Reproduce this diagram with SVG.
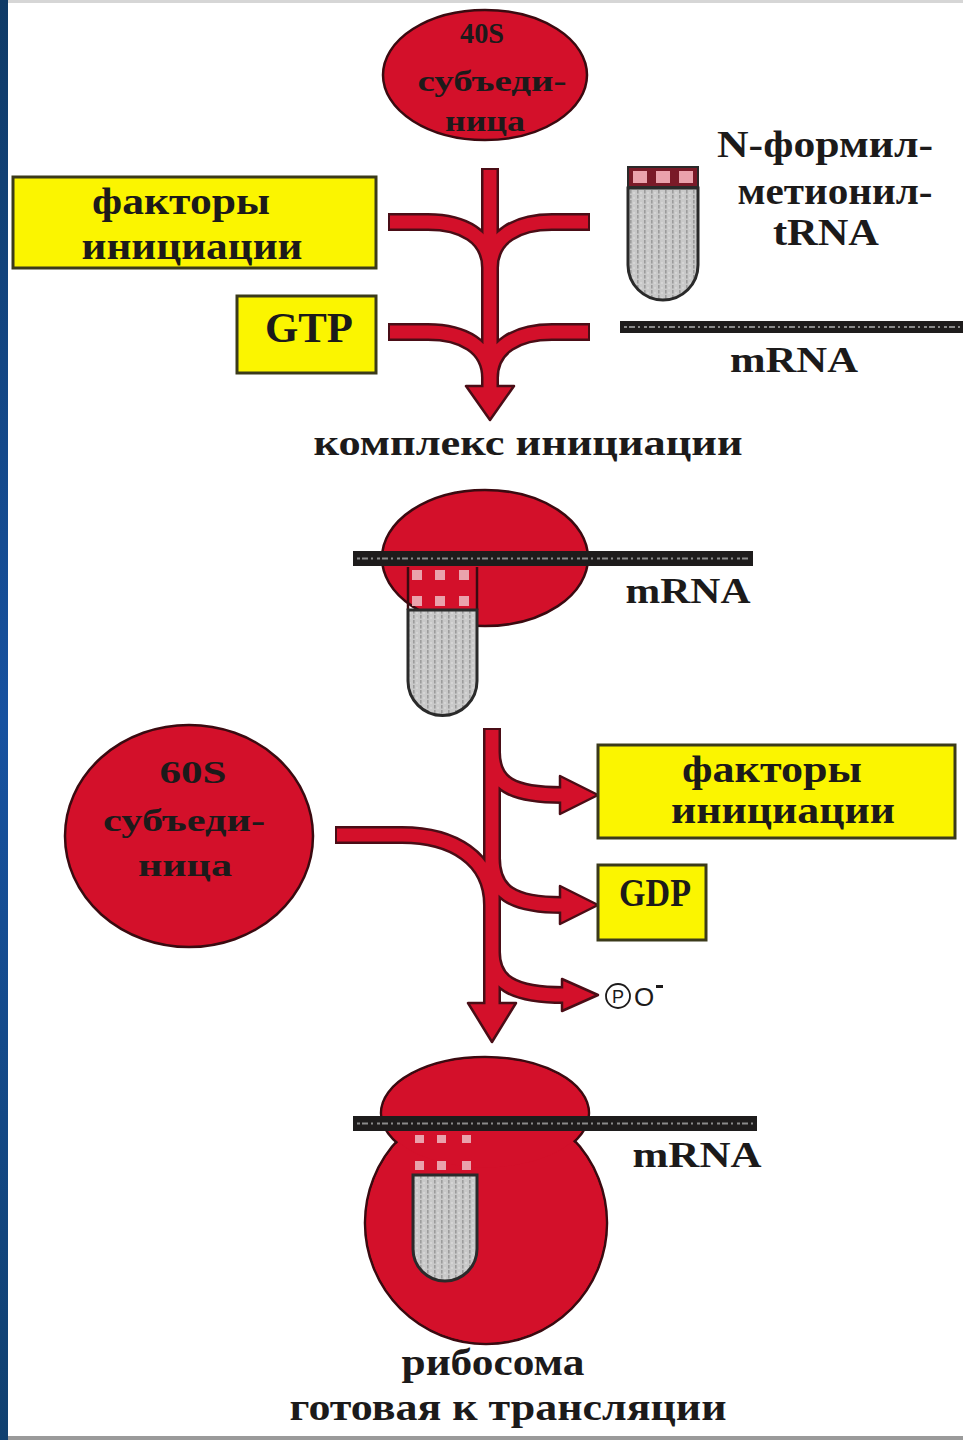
<svg xmlns="http://www.w3.org/2000/svg" width="963" height="1440" viewBox="0 0 963 1440">
  <defs>
    <style>
      .lbl { font-family: "Liberation Serif", "Times New Roman", serif; font-weight: bold; fill: #1c1a1a; text-anchor: middle; }
      .sub { fill: #d3102a; stroke: #3a0a10; stroke-width: 2.5; }
      .sub-fill { fill: #d3102a; }
      .box { fill: #fbf500; stroke: #3b3a1a; stroke-width: 3; }
      .arr-edge { fill: none; stroke: #4a0d16; stroke-width: 18; }
      .arr-core { fill: none; stroke: #d3102a; stroke-width: 13; }
      .head { fill: #d3102a; stroke: #4a0d16; stroke-width: 2.5; stroke-linejoin: round; }
      .body { fill: url(#grain); stroke: #2a2a2a; stroke-width: 3; }
      .codon { fill: #eaa2ac; }
      .mrna-bg { fill: #1e1c1c; }
      .mrna-tx { fill: none; stroke: #8a8a8a; stroke-width: 2; stroke-dasharray: 3 2 6 3 2 4; }
    </style>
    <pattern id="grain" width="7" height="5" patternUnits="userSpaceOnUse">
      <rect width="7" height="5" fill="#c9c9c9"/>
      <rect x="0" y="0" width="1.6" height="3.5" fill="#9c9c9c"/>
      <rect x="3.5" y="2" width="1" height="2" fill="#e2e2e2"/>
    </pattern>
    <linearGradient id="edge" x1="0" y1="0" x2="0" y2="1">
      <stop offset="0" stop-color="#0f3a66"/>
      <stop offset="0.5" stop-color="#1752a0"/>
      <stop offset="1" stop-color="#10406f"/>
    </linearGradient>
  </defs>

  <!-- page -->
  <rect width="963" height="1440" fill="#ffffff"/>
  <rect x="0" y="0" width="8" height="1440" fill="url(#edge)"/>
  <rect x="8" y="0" width="955" height="3" fill="#d6d6d6"/>
  <rect x="8" y="1436" width="955" height="4" fill="#9a9a9a"/>

  <!-- connectors -->
  <g id="connectors">
    <!-- assembly of the initiation complex -->
    <g id="assembly-arrow">
      <path class="arr-edge" d="M490,168 V392 M388,222 H428 C462,222 490,236 490,268 M590,222 H552 C518,222 490,236 490,268 M388,332 H428 C462,332 490,346 490,378 M590,332 H552 C518,332 490,346 490,378"/>
      <polygon class="head" points="466,386 514,386 490,420"/>
      <path class="arr-core" d="M490,170 V392 M390,222 H428 C462,222 490,236 490,268 M588,222 H552 C518,222 490,236 490,268 M390,332 H428 C462,332 490,346 490,378 M588,332 H552 C518,332 490,346 490,378"/>
    </g>
    <!-- joining of the large subunit -->
    <g id="joining-arrow">
      <path class="arr-edge" d="M492,728 V1006 M335,835 H402 C452,835 492,858 492,905 M492,752 C492,784 512,795 562,795 M492,858 C492,892 512,905 562,905 M492,952 C492,982 512,995 564,995"/>
      <polygon class="head" points="560,776 598,795 560,814"/>
      <polygon class="head" points="560,886 598,905 560,924"/>
      <polygon class="head" points="562,979 598,995 562,1011"/>
      <polygon class="head" points="468,1003 516,1003 492,1042"/>
      <path class="arr-core" d="M492,730 V1006 M337,835 H402 C452,835 492,858 492,905 M492,752 C492,784 512,795 562,795 M492,858 C492,892 512,905 562,905 M492,952 C492,982 512,995 564,995"/>
    </g>
  </g>

  <!-- small subunit -->
  <g id="subunit-40s">
    <ellipse class="sub" cx="485" cy="75" rx="102" ry="65"/>
    <text class="lbl" x="482" y="43" font-size="30" textLength="44" lengthAdjust="spacingAndGlyphs">40S</text>
    <text class="lbl" x="492" y="91" font-size="30" textLength="149" lengthAdjust="spacingAndGlyphs">субъеди-</text>
    <text class="lbl" x="485" y="131" font-size="30" textLength="80" lengthAdjust="spacingAndGlyphs">ница</text>
  </g>

  <!-- initiation factors in -->
  <g id="factors-in">
    <rect class="box" x="13" y="177" width="363" height="91"/>
    <text class="lbl" x="181" y="214" font-size="38" textLength="178" lengthAdjust="spacingAndGlyphs">факторы</text>
    <text class="lbl" x="192" y="259" font-size="38" textLength="221" lengthAdjust="spacingAndGlyphs">инициации</text>
  </g>

  <g id="gtp">
    <rect class="box" x="237" y="296" width="139" height="77"/>
    <text class="lbl" x="309" y="342" font-size="42" textLength="88" lengthAdjust="spacingAndGlyphs">GTP</text>
  </g>

  <!-- initiator tRNA -->
  <g id="trna">
    <rect x="628" y="167" width="70" height="20" fill="#7a1a28" stroke="#2a2a2a" stroke-width="2"/>
    <rect class="codon" x="633" y="171" width="14" height="12"/>
    <rect class="codon" x="656" y="171" width="14" height="12"/>
    <rect class="codon" x="679" y="171" width="14" height="12"/>
    <path class="body" d="M628,188 V265 A35,35 0 0 0 698,265 V188 Z"/>
    <text class="lbl" x="825" y="157" font-size="38" textLength="216" lengthAdjust="spacingAndGlyphs">N-формил-</text>
    <text class="lbl" x="835" y="204" font-size="38" textLength="195" lengthAdjust="spacingAndGlyphs">метионил-</text>
    <text class="lbl" x="826" y="245" font-size="38" textLength="106" lengthAdjust="spacingAndGlyphs">tRNA</text>
  </g>

  <g id="mrna">
    <rect class="mrna-bg" x="620" y="321" width="343" height="12"/>
    <line class="mrna-tx" x1="624" y1="327" x2="963" y2="327"/>
    <text class="lbl" x="794" y="372" font-size="36" textLength="128" lengthAdjust="spacingAndGlyphs">mRNA</text>
  </g>

  <text id="complex-label" class="lbl" x="528" y="455" font-size="36" textLength="429" lengthAdjust="spacingAndGlyphs">комплекс инициации</text>

  <!-- initiation complex -->
  <g id="initiation-complex">
    <ellipse class="sub" cx="485" cy="558" rx="103" ry="68"/>
    <rect class="codon" x="412" y="570" width="10" height="10"/>
    <rect class="codon" x="435" y="570" width="10" height="10"/>
    <rect class="codon" x="459" y="570" width="10" height="10"/>
    <rect class="codon" x="412" y="596" width="10" height="10"/>
    <rect class="codon" x="435" y="596" width="10" height="10"/>
    <rect class="codon" x="459" y="596" width="10" height="10"/>
    <line x1="408" y1="567" x2="408" y2="610" stroke="#3a0a10" stroke-width="2.5"/>
    <line x1="477" y1="567" x2="477" y2="610" stroke="#3a0a10" stroke-width="2.5"/>
    <path class="body" d="M408,610 V681 A34.5,34.5 0 0 0 477,681 V610 Z"/>
    <rect class="mrna-bg" x="353" y="551" width="400" height="15"/>
    <line class="mrna-tx" x1="357" y1="558.5" x2="750" y2="558.5"/>
    <text class="lbl" x="688" y="603" font-size="36" textLength="125" lengthAdjust="spacingAndGlyphs">mRNA</text>
  </g>

  <!-- large subunit -->
  <g id="subunit-60s">
    <ellipse class="sub" cx="189" cy="836" rx="124" ry="111"/>
    <text class="lbl" x="193" y="783" font-size="32" textLength="67" lengthAdjust="spacingAndGlyphs">60S</text>
    <text class="lbl" x="184" y="831" font-size="32" textLength="162" lengthAdjust="spacingAndGlyphs">субъеди-</text>
    <text class="lbl" x="185" y="876" font-size="32" textLength="94" lengthAdjust="spacingAndGlyphs">ница</text>
  </g>

  <!-- released factors -->
  <g id="factors-out">
    <rect class="box" x="598" y="745" width="357" height="93"/>
    <text class="lbl" x="772" y="782" font-size="38" textLength="180" lengthAdjust="spacingAndGlyphs">факторы</text>
    <text class="lbl" x="783" y="823" font-size="38" textLength="224" lengthAdjust="spacingAndGlyphs">инициации</text>
  </g>

  <g id="gdp">
    <rect class="box" x="598" y="865" width="108" height="75"/>
    <text class="lbl" x="655" y="906" font-size="40" textLength="72" lengthAdjust="spacingAndGlyphs">GDP</text>
  </g>

  <g id="phosphate">
    <circle cx="618" cy="996" r="12" fill="#ffffff" stroke="#1c1a1a" stroke-width="1.8"/>
    <text x="618" y="1003" font-family="Liberation Sans, Arial, sans-serif" font-size="18" fill="#1c1a1a" text-anchor="middle">P</text>
    <text x="634" y="1006" font-family="Liberation Sans, Arial, sans-serif" font-size="26" fill="#1c1a1a">O</text>
    <rect x="656" y="985" width="7" height="3" fill="#1c1a1a"/>
  </g>

  <!-- assembled ribosome: outlines first, then fills so only the outer contour shows -->
  <g id="ribosome">
    <circle class="sub" cx="486" cy="1223" r="121"/>
    <ellipse class="sub" cx="485" cy="1113" rx="104" ry="56"/>
    <circle class="sub-fill" cx="486" cy="1223" r="119.5"/>
    <ellipse class="sub-fill" cx="485" cy="1113" rx="102.5" ry="54.5"/>
    <rect class="codon" x="415" y="1135" width="9" height="8"/>
    <rect class="codon" x="437" y="1135" width="9" height="8"/>
    <rect class="codon" x="462" y="1135" width="9" height="8"/>
    <rect class="codon" x="415" y="1161" width="9" height="9"/>
    <rect class="codon" x="437" y="1161" width="9" height="9"/>
    <rect class="codon" x="462" y="1161" width="9" height="9"/>
    <path class="body" d="M413,1175 V1249 A32,32 0 0 0 477,1249 V1175 Z"/>
    <rect class="mrna-bg" x="353" y="1116" width="404" height="15"/>
    <line class="mrna-tx" x1="357" y1="1123.5" x2="754" y2="1123.5"/>
    <text class="lbl" x="697" y="1167" font-size="36" textLength="129" lengthAdjust="spacingAndGlyphs">mRNA</text>
  </g>

  <g id="ribosome-label">
    <text class="lbl" x="493" y="1375" font-size="38" textLength="183" lengthAdjust="spacingAndGlyphs">рибосома</text>
    <text class="lbl" x="508" y="1420" font-size="38" textLength="437" lengthAdjust="spacingAndGlyphs">готовая к трансляции</text>
  </g>
</svg>
